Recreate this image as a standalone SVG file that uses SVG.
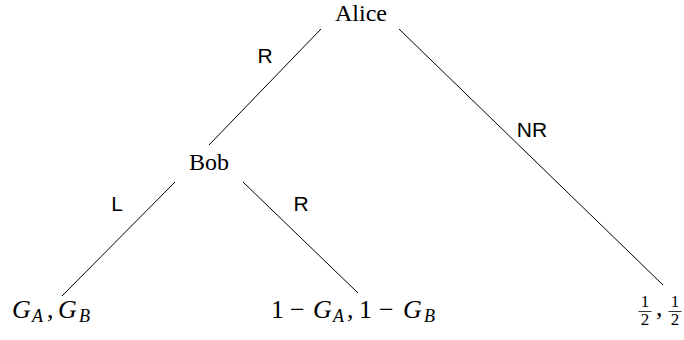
<svg xmlns="http://www.w3.org/2000/svg" width="684" height="340" viewBox="0 0 684 340">
<style>
.n{font-family:"Liberation Serif","DejaVu Serif",serif;font-size:24px;fill:#000}
.m{font-family:"Liberation Serif","DejaVu Serif",serif;font-size:26px;fill:#000}
.f{font-family:"Liberation Serif","DejaVu Serif",serif;font-size:17px;fill:#000}
.i{font-style:italic}
.sub{font-size:18px;font-style:italic}
.s{font-family:"Liberation Sans","DejaVu Sans",sans-serif;font-size:21px;fill:#000}
.e line{stroke:#000;stroke-width:1}
</style>
<rect width="684" height="340" fill="#fff"/>
<g id="connectors" class="e">
<line x1="321" y1="29" x2="209" y2="145"/>
<line x1="399" y1="29" x2="663" y2="285"/>
<line x1="175" y1="182" x2="62" y2="296"/>
<line x1="243" y1="182" x2="358" y2="293"/>
</g>
<g id="labels">
<text class="s" x="265" y="63" text-anchor="middle">R</text>
<text class="s" x="532" y="137" text-anchor="middle">NR</text>
<text class="s" x="117" y="211" text-anchor="middle">L</text>
<text class="s" x="301" y="211" text-anchor="middle">R</text>
</g>
<g id="alice"><text class="n" x="361" y="21" text-anchor="middle">Alice</text></g>
<g id="bob"><text class="n" x="209" y="170" text-anchor="middle">Bob</text></g>
<g id="leafLL"><text class="m" y="318"><tspan class="i" x="12">G</tspan><tspan class="sub" x="32" dy="4">A</tspan><tspan x="47" dy="-4">,</tspan><tspan class="i" x="58">G</tspan><tspan class="sub" x="79" dy="4">B</tspan></text></g>
<g id="leafLR"><text class="m" y="318"><tspan x="271">1</tspan><tspan x="290">−</tspan><tspan class="i" x="313">G</tspan><tspan class="sub" x="333" dy="4">A</tspan><tspan x="347" dy="-4">,</tspan><tspan x="359">1</tspan><tspan x="379">−</tspan><tspan class="i" x="403">G</tspan><tspan class="sub" x="424" dy="4">B</tspan></text></g>
<g id="leafNR">
<text class="f" x="645" y="307" text-anchor="middle">1</text>
<line x1="638.5" y1="311.5" x2="651.5" y2="311.5" stroke="#000" stroke-width="0.8"/>
<text class="f" x="645" y="325" text-anchor="middle">2</text>
<text class="m" x="656" y="316">,</text>
<text class="f" x="675" y="307" text-anchor="middle">1</text>
<line x1="668.5" y1="311.5" x2="681.5" y2="311.5" stroke="#000" stroke-width="0.8"/>
<text class="f" x="675" y="325" text-anchor="middle">2</text>
</g>
</svg>
